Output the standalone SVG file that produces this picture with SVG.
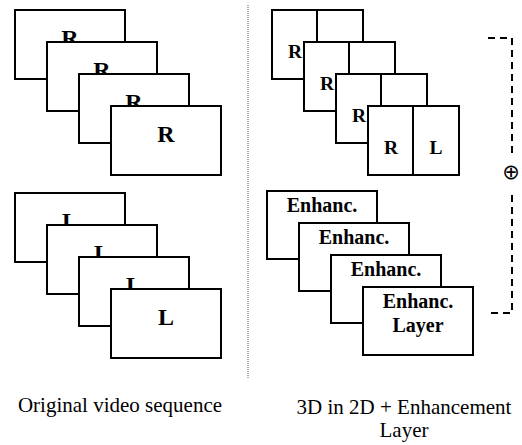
<svg xmlns="http://www.w3.org/2000/svg" width="522" height="445" viewBox="0 0 522 445" font-family="Liberation Serif, Tinos, Noto Serif, DejaVu Serif, FreeSerif, Times New Roman, Times, serif">
<style>
.f{fill:#fff;stroke:#000;stroke-width:2}
.d{stroke:#000;stroke-width:2}
.big{font-weight:bold;font-size:24px;text-anchor:middle}
.sm{font-weight:bold;font-size:19.5px;text-anchor:middle}
.en{font-weight:bold;font-size:20px;text-anchor:middle}
.cap{font-size:21px;text-anchor:middle}
</style>
<rect width="522" height="445" fill="#fff"/>
<g id="left-R">
<rect class="f" x="15" y="10" width="110" height="69"/><text class="big" x="70" y="46">R</text>
<rect class="f" x="47" y="42" width="110" height="69"/><text class="big" x="102" y="78">R</text>
<rect class="f" x="79" y="74" width="110" height="69"/><text class="big" x="134" y="110">R</text>
<rect class="f" x="111" y="106" width="110" height="69"/><text class="big" x="166" y="142">R</text>
</g>
<g id="left-L">
<rect class="f" x="15" y="193" width="110" height="69"/><text class="big" x="70" y="229">L</text>
<rect class="f" x="47" y="225" width="110" height="69"/><text class="big" x="102" y="261">L</text>
<rect class="f" x="79" y="257" width="110" height="69"/><text class="big" x="134" y="293">L</text>
<rect class="f" x="111" y="289" width="110" height="69"/><text class="big" x="166" y="325">L</text>
</g>
<g id="right-RL">
<rect class="f" x="272" y="10" width="91" height="69"/><line class="d" x1="317" y1="10" x2="317" y2="79"/><text class="sm" x="295" y="58">R</text>
<rect class="f" x="304" y="42" width="91" height="69"/><line class="d" x1="349" y1="42" x2="349" y2="111"/><text class="sm" x="327" y="90">R</text>
<rect class="f" x="336" y="74" width="91" height="69"/><line class="d" x1="381" y1="74" x2="381" y2="143"/><text class="sm" x="359" y="122">R</text>
<rect class="f" x="368" y="106" width="91" height="69"/><line class="d" x1="413" y1="106" x2="413" y2="175"/><text class="sm" x="391" y="154">R</text><text class="sm" x="436" y="154">L</text>
</g>
<g id="right-enh">
<rect class="f" x="267" y="191" width="110" height="68"/><text class="en" x="322" y="212">Enhanc.</text>
<rect class="f" x="299" y="223" width="110" height="68"/><text class="en" x="354" y="244">Enhanc.</text>
<rect class="f" x="331" y="255" width="110" height="68"/><text class="en" x="386" y="276">Enhanc.</text>
<rect class="f" x="363" y="287" width="110" height="68"/><text class="en" x="418" y="308">Enhanc.</text><text class="en" x="418" y="332">Layer</text>
</g>
<g id="connectors">
<line x1="248" y1="5" x2="248" y2="378" stroke="#555" stroke-width="1" stroke-dasharray="1 1"/>
<path d="M488 38 H512 V155 M512 195 V313 H488" fill="none" stroke="#000" stroke-width="2" stroke-dasharray="7 5"/>
</g>
<g id="oplus">
<text x="511" y="179" font-family="DejaVu Sans, sans-serif" font-size="21" text-anchor="middle">⊕</text>
</g>
<g id="captions">
<text class="cap" x="120" y="412">Original video sequence</text>
<text class="cap" x="404" y="414">3D in 2D + Enhancement</text>
<text class="cap" x="404" y="437">Layer</text>
</g>
</svg>
